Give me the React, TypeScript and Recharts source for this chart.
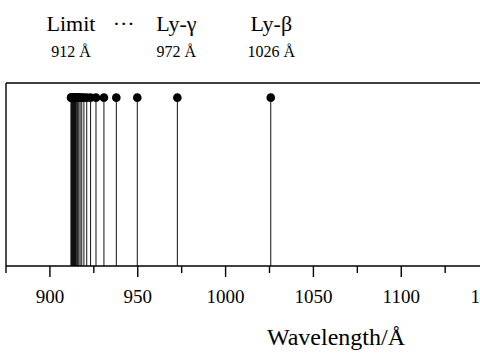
import React from 'react';
import {
  ComposedChart,
  Scatter,
  XAxis,
  YAxis,
  ReferenceLine,
} from 'recharts';

// Lyman series line positions (Å), from Ly-β down towards the series limit
const lineWavelengths = [
  1025.72, 972.54, 949.74, 937.8, 930.75, 926.23, 923.15, 920.96, 919.35,
  918.13, 917.18, 916.43, 915.82, 915.33, 914.92, 914.58, 914.29, 914.04,
  913.83, 913.65, 913.48, 913.34, 913.21, 913.1, 913.0, 912.91, 912.83,
  912.76, 912.69, 912.63, 912.4, 912.2, 912.0,
];
const lineHeight = 0.92;

const majorTicks = [900, 950, 1000, 1050, 1100, 1150];
const minorTicks = [875, 925, 975, 1025, 1075, 1125, 1175];

// annotations above the frame
const topTickValues = [912, 942, 972, 1026];
const topNames = ['Limit', '···', 'Ly-γ', 'Ly-β'];
const topSubLabels = ['912 Å', '', '972 Å', '1026 Å'];

const serif = { fontFamily: "'Liberation Serif', 'Times New Roman', Times, serif" };

const data = lineWavelengths.map((w) => ({ x: w, y: lineHeight }));
const allTicks = [...minorTicks, ...majorTicks].sort((a, b) => a - b);

const BottomTick = (props: any) => {
  const { x, y, payload } = props;
  const major = majorTicks.includes(payload.value);
  return (
    <g>
      <line x1={x} y1={y} x2={x} y2={y + (major ? 11 : 7)} stroke="#000" strokeWidth={1.4} />
      {major && (
        <text x={x} y={y + 37} textAnchor="middle" fontSize={19} style={serif} fill="#000">
          {payload.value}
        </text>
      )}
    </g>
  );
};

const TopTick = (props: any) => {
  const { x, y, index } = props;
  return (
    <g>
      <text x={x} y={y - 52} textAnchor="middle" fontSize={22} style={serif} fill="#000">
        {topNames[index]}
      </text>
      <text x={x} y={y - 26} textAnchor="middle" fontSize={16} style={serif} fill="#000">
        {topSubLabels[index]}
      </text>
    </g>
  );
};

const Dot = (props: any) => <circle cx={props.cx} cy={props.cy} r={4.3} fill="#000" />;

const App = () => {
  return (
    <div
      style={{
        position: 'absolute',
        left: 0,
        top: 0,
        width: 480,
        height: 360,
        overflow: 'hidden',
        background: '#fff',
      }}
    >
      <ComposedChart
        width={560}
        height={360}
        data={data}
        margin={{ top: 0, right: 27, bottom: 0, left: 6 }}
      >
        <XAxis
          dataKey="x"
          type="number"
          domain={[875, 1175]}
          allowDataOverflow
          ticks={allTicks}
          interval={0}
          height={94}
          tickSize={0}
          tickMargin={0}
          tickLine={false}
          axisLine={{ stroke: '#000', strokeWidth: 1.4 }}
          tick={<BottomTick />}
          label={{
            content: ({ viewBox }: any) => (
              <text
                x={viewBox.x + 330}
                y={viewBox.y + 79}
                textAnchor="middle"
                fontSize={24}
                style={serif}
                fill="#000"
              >
                Wavelength/Å
              </text>
            ),
          }}
        />
        <XAxis
          xAxisId="top"
          orientation="top"
          dataKey="x"
          type="number"
          domain={[875, 1175]}
          allowDataOverflow
          ticks={topTickValues}
          interval={0}
          height={83}
          tickSize={0}
          tickMargin={0}
          tickLine={false}
          axisLine={{ stroke: '#000', strokeWidth: 1.5 }}
          tick={<TopTick />}
        />
        <YAxis type="number" domain={[0, 1]} hide />
        {/* left edge of the frame */}
        <ReferenceLine x={875} stroke="#000" strokeWidth={1.4} />
        {lineWavelengths.map((w) => (
          <ReferenceLine
            key={w}
            segment={[
              { x: w, y: 0 },
              { x: w, y: lineHeight },
            ]}
            stroke="#111"
            strokeWidth={1}
          />
        ))}
        <Scatter dataKey="y" shape={<Dot />} isAnimationActive={false} />
      </ComposedChart>
    </div>
  );
};

export default App;
